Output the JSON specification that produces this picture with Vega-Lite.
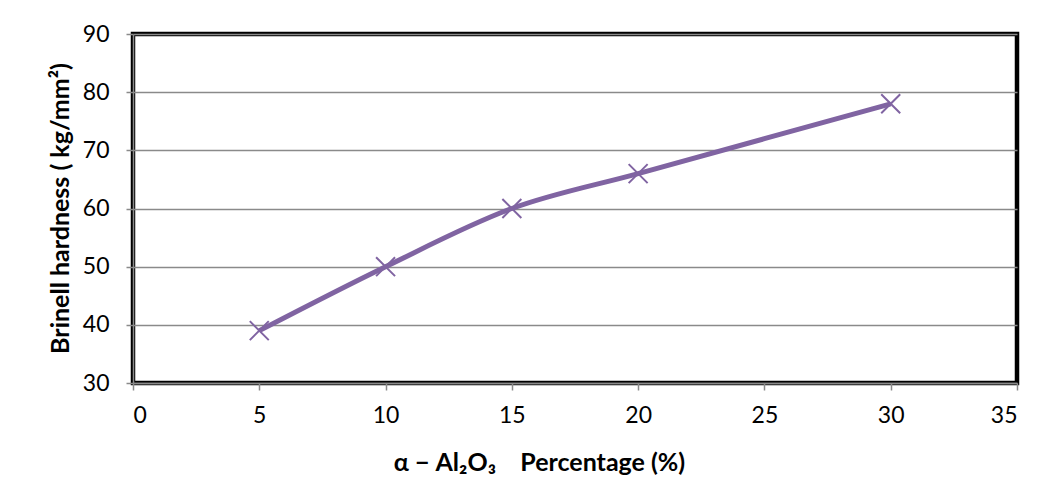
{
  "$schema": "https://vega.github.io/schema/vega-lite/v6.json",
  "autosize": {"type": "none"},
  "width": 884,
  "height": 349,
  "padding": {"left": 133, "top": 34, "right": 31, "bottom": 120},
  "background": "white",
  "data": {"values": [
    {"pct": 5, "hardness": 39},
    {"pct": 10, "hardness": 50},
    {"pct": 15, "hardness": 60},
    {"pct": 20, "hardness": 66},
    {"pct": 30, "hardness": 78}
  ]},
  "config": {
    "font": "Lato",
    "view": {"stroke": "black", "strokeWidth": 4.5},
    "axis": {
      "labelFont": "Lato",
      "labelFontSize": 23,
      "labelColor": "black",
      "titleFont": "Lato",
      "titleFontSize": 25,
      "titleFontWeight": "bold",
      "titleColor": "black",
      "domainColor": "#8a8a8a",
      "domainWidth": 1.5,
      "tickColor": "#8a8a8a",
      "tickWidth": 1.5,
      "tickSize": 7,
      "gridColor": "#8a8a8a",
      "gridWidth": 1.5
    }
  },
  "layer": [
    {
      "mark": {"type": "line", "color": "#8064A2", "strokeWidth": 5, "interpolate": "monotone"},
      "encoding": {
        "x": {
          "field": "pct", "type": "quantitative",
          "scale": {"domain": [0, 35], "nice": false},
          "axis": {
            "values": [0, 5, 10, 15, 20, 25, 30, 35],
            "grid": false,
            "labelPadding": 14,
            "title": "α − Al₂O₃\u00a0\u00a0\u00a0\u00a0Percentage (%)",
            "titleX": 406,
            "titleY": 79,
            "titleBaseline": "middle"
          }
        },
        "y": {
          "field": "hardness", "type": "quantitative",
          "scale": {"domain": [30, 90], "nice": false, "zero": false},
          "axis": {
            "values": [30, 40, 50, 60, 70, 80, 90],
            "grid": true,
            "labelPadding": 17,
            "title": "Brinell hardness ( kg/mm²)",
            "titleX": -73,
            "titleY": 174,
            "titleAngle": -90,
            "titleBaseline": "middle",
            "titleAnchor": "middle"
          }
        }
      }
    },
    {
      "mark": {"type": "point", "shape": "M-1,-1L1,1M1,-1L-1,1", "filled": false, "color": "#8064A2", "strokeWidth": 2, "size": 360, "opacity": 1},
      "encoding": {
        "x": {"field": "pct", "type": "quantitative"},
        "y": {"field": "hardness", "type": "quantitative"}
      }
    }
  ]
}
